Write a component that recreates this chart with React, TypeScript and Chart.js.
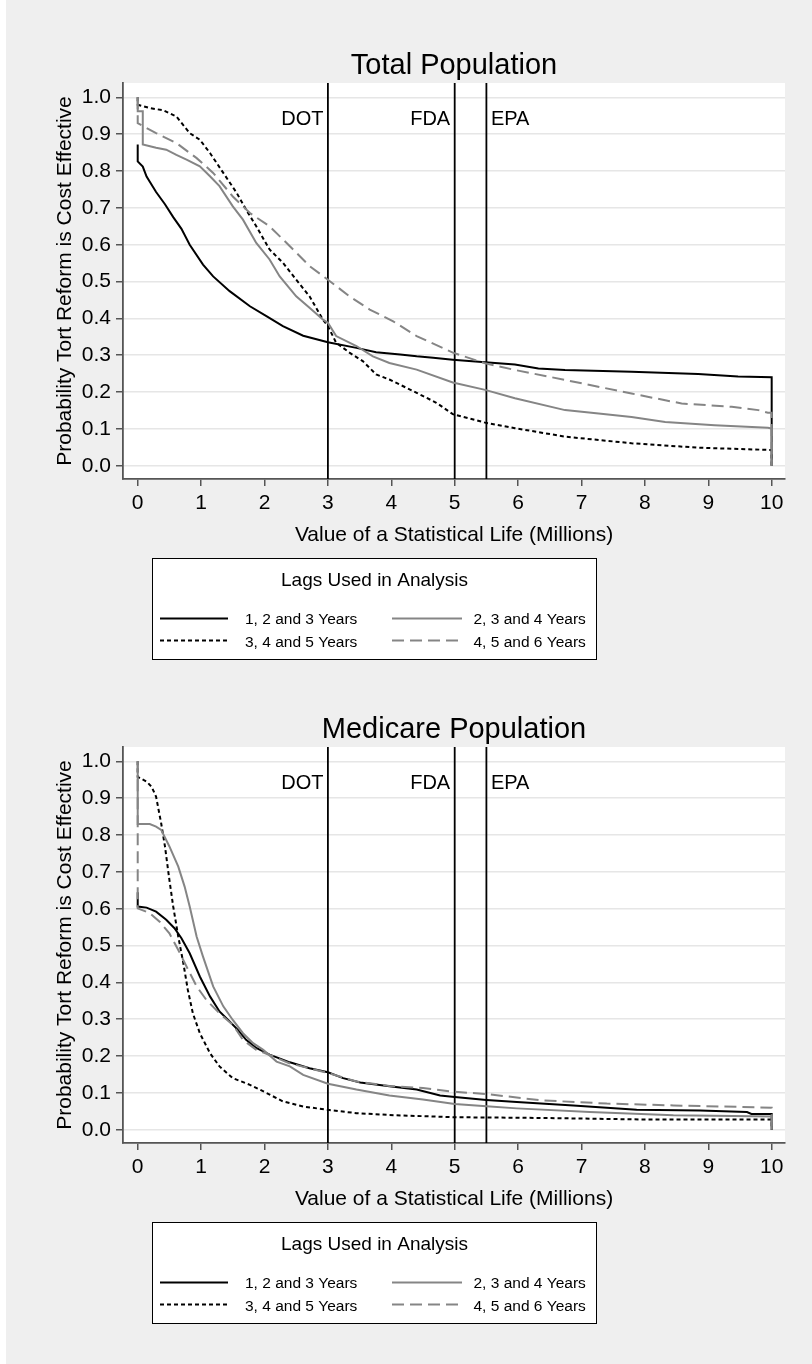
import React, { useEffect, useRef } from "react";
import { Chart, registerables } from "chart.js";

Chart.register(...registerables);

const FONT = '"Liberation Sans", Arial, Helvetica, sans-serif';

// ---------- axis / labels ----------
const xTicks = [0, 1, 2, 3, 4, 5, 6, 7, 8, 9, 10];
const yTicks = [0, 0.1, 0.2, 0.3, 0.4, 0.5, 0.6, 0.7, 0.8, 0.9, 1.0];
const xAxisTitle = "Value of a Statistical Life (Millions)";
const yAxisTitle = "Probability Tort Reform is Cost Effective";
const chartTitles = ["Total Population", "Medicare Population"];
const legendTitle = "Lags Used in Analysis";
const seriesLabels = ["1, 2 and 3 Years", "2, 3 and 4 Years", "3, 4 and 5 Years", "4, 5 and 6 Years"];
const refValues = [3, 5, 5.5];
const refLabels = ["DOT", "FDA", "EPA"];

// ---------- Total population ----------
const totalLag123X = [0, 0, 0.08, 0.14, 0.29, 0.43, 0.56, 0.69, 0.82, 1.03, 1.19, 1.45, 1.77, 2.03, 2.29, 2.61, 3.0, 3.45, 3.76, 4.14, 4.4, 4.66, 4.97, 5.48, 5.95, 6.32, 6.74, 7.79, 8.84, 9.47, 10, 10];
const totalLag123Y = [0.872, 0.826, 0.812, 0.785, 0.743, 0.71, 0.675, 0.643, 0.6, 0.546, 0.514, 0.474, 0.433, 0.406, 0.379, 0.353, 0.335, 0.32, 0.308, 0.302, 0.297, 0.293, 0.288, 0.281, 0.275, 0.264, 0.26, 0.255, 0.249, 0.242, 0.24, 0];

const totalLag234X = [0, 0, 0.08, 0.08, 0.29, 0.45, 0.61, 0.77, 0.98, 1.14, 1.29, 1.5, 1.66, 1.87, 2.08, 2.24, 2.5, 2.71, 2.92, 3.0, 3.13, 3.45, 3.71, 3.97, 4.4, 4.97, 5.48, 5.95, 6.74, 7.27, 7.79, 8.32, 9.1, 9.94, 10, 10];
const totalLag234Y = [1.0, 0.962, 0.962, 0.872, 0.863, 0.858, 0.844, 0.831, 0.813, 0.786, 0.759, 0.704, 0.668, 0.605, 0.56, 0.514, 0.46, 0.429, 0.397, 0.388, 0.352, 0.325, 0.297, 0.279, 0.261, 0.226, 0.206, 0.183, 0.151, 0.142, 0.132, 0.119, 0.11, 0.103, 0.101, 0];

const totalLag345X = [0, 0, 0.19, 0.4, 0.61, 0.82, 0.98, 1.14, 1.35, 1.56, 1.71, 1.87, 2.08, 2.29, 2.5, 2.71, 2.92, 3.0, 3.13, 3.34, 3.55, 3.76, 3.97, 4.4, 4.71, 4.97, 5.48, 5.95, 6.74, 7.79, 8.84, 9.94, 10, 10];
const totalLag345Y = [1.0, 0.98, 0.971, 0.965, 0.948, 0.903, 0.885, 0.849, 0.795, 0.741, 0.695, 0.65, 0.587, 0.551, 0.505, 0.46, 0.397, 0.379, 0.334, 0.307, 0.284, 0.248, 0.234, 0.198, 0.171, 0.14, 0.117, 0.102, 0.079, 0.061, 0.049, 0.043, 0.043, 0];

const totalLag456X = [0, 0, 0.29, 0.61, 0.93, 1.19, 1.5, 1.77, 2.08, 2.4, 2.71, 3.0, 3.34, 3.66, 4.03, 4.4, 4.97, 5.48, 5.95, 6.74, 7.79, 8.58, 9.37, 9.79, 9.94, 10, 10];
const totalLag456Y = [1.0, 0.93, 0.903, 0.876, 0.835, 0.795, 0.731, 0.686, 0.65, 0.596, 0.542, 0.505, 0.46, 0.424, 0.392, 0.352, 0.307, 0.278, 0.26, 0.233, 0.196, 0.169, 0.16, 0.151, 0.144, 0.144, 0];

// ---------- Medicare population ----------
const medLag123X = [0, 0, 0.14, 0.29, 0.45, 0.58, 0.69, 0.82, 0.98, 1.14, 1.29, 1.45, 1.58, 1.71, 1.87, 2.08, 2.4, 2.71, 3.0, 3.24, 3.51, 3.97, 4.4, 4.77, 5.0, 5.5, 5.98, 6.87, 7.87, 8.87, 9.61, 9.68, 10, 10];
const medLag123Y = [0.645, 0.606, 0.603, 0.592, 0.57, 0.547, 0.52, 0.479, 0.416, 0.362, 0.321, 0.294, 0.271, 0.244, 0.222, 0.204, 0.183, 0.167, 0.156, 0.14, 0.128, 0.118, 0.109, 0.093, 0.089, 0.081, 0.075, 0.066, 0.054, 0.052, 0.048, 0.043, 0.043, 0];

const medLag234X = [0, 0, 0.19, 0.29, 0.37, 0.5, 0.64, 0.74, 0.82, 0.93, 1.03, 1.19, 1.35, 1.5, 1.66, 1.82, 1.98, 2.19, 2.4, 2.61, 3.0, 3.45, 3.97, 4.5, 5.0, 5.5, 5.98, 7.13, 8.45, 10, 10];
const medLag234Y = [1.0, 0.83, 0.83, 0.823, 0.814, 0.769, 0.714, 0.66, 0.606, 0.524, 0.47, 0.389, 0.335, 0.298, 0.262, 0.235, 0.217, 0.185, 0.172, 0.149, 0.125, 0.109, 0.093, 0.082, 0.07, 0.064, 0.058, 0.048, 0.039, 0.036, 0];

const medLag345X = [0, 0, 0.14, 0.22, 0.29, 0.37, 0.43, 0.5, 0.56, 0.64, 0.72, 0.79, 0.87, 0.98, 1.14, 1.29, 1.5, 1.77, 2.03, 2.29, 2.61, 3.0, 3.45, 3.97, 4.97, 6.35, 7.92, 10, 10];
const medLag345Y = [1.0, 0.958, 0.945, 0.931, 0.904, 0.832, 0.769, 0.678, 0.606, 0.524, 0.452, 0.38, 0.316, 0.262, 0.208, 0.172, 0.14, 0.122, 0.1, 0.077, 0.063, 0.054, 0.045, 0.04, 0.034, 0.032, 0.028, 0.028, 0];

const medLag456X = [0, 0, 0.19, 0.35, 0.5, 0.64, 0.77, 0.93, 1.08, 1.29, 1.5, 1.66, 1.87, 2.08, 2.4, 2.71, 3.0, 3.45, 3.97, 4.5, 5.0, 5.5, 6.35, 7.4, 8.45, 10, 10];
const medLag456Y = [1.0, 0.601, 0.588, 0.564, 0.533, 0.488, 0.443, 0.389, 0.353, 0.316, 0.285, 0.244, 0.217, 0.203, 0.18, 0.167, 0.154, 0.131, 0.119, 0.113, 0.103, 0.097, 0.08, 0.071, 0.066, 0.06, 0];

// ---------- styles ----------
const seriesColors = ["#000000", "#858585", "#000000", "#858585"];
const seriesDashes: number[][] = [[], [], [4, 3], [12, 6]];
const seriesOrder = [3, 1, 2, 0];

const CANVAS_W = 806;
const PLOT_TOP = 83;
const PLOT_BOTTOM = 479;
const X_SCALE_H = 75;

function makePlugin(title: string) {
  return {
    id: "panelDecor",
    beforeDraw(chart: any) {
      const { ctx, chartArea } = chart;
      ctx.save();
      ctx.fillStyle = "#ffffff";
      ctx.fillRect(chartArea.left, chartArea.top, chartArea.right - chartArea.left, chartArea.bottom - chartArea.top);
      ctx.restore();
    },
    beforeDatasetsDraw(chart: any) {
      const { ctx, chartArea, scales } = chart;
      const xs = scales.x;
      const ys = scales.y;
      ctx.save();
      ctx.strokeStyle = "#000";
      ctx.lineWidth = 1.8;
      ctx.font = `20px ${FONT}`;
      ctx.fillStyle = "#000";
      ctx.textBaseline = "alphabetic";
      const labelY = ys.getPixelForValue(1.0) + 27.5;
      refValues.forEach((v, i) => {
        const px = xs.getPixelForValue(v);
        ctx.beginPath();
        ctx.moveTo(px, chartArea.top);
        ctx.lineTo(px, chartArea.bottom);
        ctx.stroke();
        if (i < 2) {
          ctx.textAlign = "right";
          ctx.fillText(refLabels[i], px - 4.5, labelY);
        } else {
          ctx.textAlign = "left";
          ctx.fillText(refLabels[i], px + 4.5, labelY);
        }
      });
      ctx.restore();
    },
    afterDraw(chart: any) {
      const { ctx, chartArea } = chart;
      ctx.save();
      // title
      ctx.fillStyle = "#000";
      ctx.font = `29px ${FONT}`;
      ctx.textAlign = "center";
      ctx.textBaseline = "alphabetic";
      ctx.fillText(title, (chartArea.left + chartArea.right) / 2, 73.5);

      // legend box
      const bx = 146.5, by = 558.5, bw = 444, bh = 101;
      ctx.fillStyle = "#ffffff";
      ctx.fillRect(bx, by, bw, bh);
      ctx.strokeStyle = "#000";
      ctx.lineWidth = 1;
      ctx.strokeRect(bx, by, bw, bh);

      ctx.fillStyle = "#000";
      ctx.font = `19px ${FONT}`;
      ctx.textAlign = "center";
      ctx.fillText(legendTitle, bx + bw / 2, 586);

      const rowLineY = [618.5, 640.5];
      const rowTextY = [624, 646.5];
      const colLineX = [[154, 222], [386, 456]];
      const colTextX = [239, 467.5];
      ctx.font = `15.5px ${FONT}`;
      ctx.textAlign = "left";
      seriesLabels.forEach((lab, i) => {
        const row = Math.floor(i / 2);
        const col = i % 2;
        ctx.beginPath();
        ctx.strokeStyle = seriesColors[i];
        ctx.lineWidth = 2;
        ctx.setLineDash(seriesDashes[i]);
        ctx.moveTo(colLineX[col][0], rowLineY[row]);
        ctx.lineTo(colLineX[col][1], rowLineY[row]);
        ctx.stroke();
        ctx.setLineDash([]);
        ctx.fillStyle = "#000";
        ctx.fillText(lab, colTextX[col], rowTextY[row]);
      });
      ctx.restore();
    },
  };
}

type PanelProps = {
  title: string;
  xs: number[][];
  ys: number[][];
  height: number;
  top: number;
};

function Panel({ title, xs, ys, height, top }: PanelProps) {
  const ref = useRef<HTMLCanvasElement>(null);
  useEffect(() => {
    if (!ref.current) return;
    const datasets = xs.map((xArr, i) => ({
      label: seriesLabels[i],
      data: xArr.map((x, j) => ({ x, y: ys[i][j] })),
      borderColor: seriesColors[i],
      backgroundColor: seriesColors[i],
      borderWidth: 2,
      borderDash: seriesDashes[i],
      pointRadius: 0,
      tension: 0,
      fill: false,
      order: seriesOrder[i],
    }));
    const chart = new Chart(ref.current, {
      type: "line",
      data: { datasets },
      options: {
        animation: false,
        responsive: false,
        maintainAspectRatio: false,
        layout: {
          padding: { left: 0, right: CANVAS_W - 779, top: PLOT_TOP, bottom: height - PLOT_BOTTOM - X_SCALE_H },
        },
        plugins: {
          legend: { display: false },
          tooltip: { enabled: false },
          title: { display: false },
        },
        scales: {
          x: {
            type: "linear",
            min: -0.232,
            max: 10.21,
            afterBuildTicks: (s: any) => {
              s.ticks = xTicks.map((v) => ({ value: v }));
            },
            afterFit: (s: any) => {
              s.height = X_SCALE_H;
            },
            ticks: {
              font: { family: FONT, size: 21 },
              color: "#000",
              padding: 5,
              maxRotation: 0,
              autoSkip: false,
              callback: (v: any) => String(v),
            },
            grid: { drawOnChartArea: false, tickLength: 7, tickColor: "#555", lineWidth: 1.5 },
            border: { color: "#555", width: 1.8 },
            title: {
              display: true,
              text: xAxisTitle,
              font: { family: FONT, size: 21 },
              color: "#000",
              padding: { top: 0, bottom: 6.4 },
            },
          },
          y: {
            type: "linear",
            min: -0.036,
            max: 1.039,
            afterBuildTicks: (s: any) => {
              s.ticks = yTicks.map((v) => ({ value: v }));
            },
            afterFit: (s: any) => {
              s.width = 117;
            },
            ticks: {
              font: { family: FONT, size: 21 },
              color: "#000",
              padding: 5,
              autoSkip: false,
              callback: (v: any) => Number(v).toFixed(1),
            },
            grid: { color: "#e6e6e6", lineWidth: 1.5, tickLength: 7, tickColor: "#555" },
            border: { color: "#555", width: 1.8 },
            title: {
              display: true,
              text: yAxisTitle,
              font: { family: FONT, size: 21 },
              color: "#000",
              padding: { top: 46.4, bottom: 0 },
            },
          },
        },
      } as any,
      plugins: [makePlugin(title)],
    });
    return () => chart.destroy();
  }, []);
  return (
    <canvas
      ref={ref}
      width={CANVAS_W}
      height={height}
      style={{ position: "absolute", left: 6, top, width: CANVAS_W, height, display: "block" }}
    />
  );
}

export default function App() {
  return (
    <div
      style={{
        position: "absolute",
        left: 6,
        top: 0,
        width: 806,
        height: 1364,
        background: "#efefef",
        overflow: "hidden",
      }}
    >
      <div style={{ position: "relative", width: 806, height: 1364, left: -6 }}>
        <Panel
          title={chartTitles[0]}
          xs={[totalLag123X, totalLag234X, totalLag345X, totalLag456X]}
          ys={[totalLag123Y, totalLag234Y, totalLag345Y, totalLag456Y]}
          height={664}
          top={0}
        />
        <Panel
          title={chartTitles[1]}
          xs={[medLag123X, medLag234X, medLag345X, medLag456X]}
          ys={[medLag123Y, medLag234Y, medLag345Y, medLag456Y]}
          height={700}
          top={664}
        />
      </div>
    </div>
  );
}
